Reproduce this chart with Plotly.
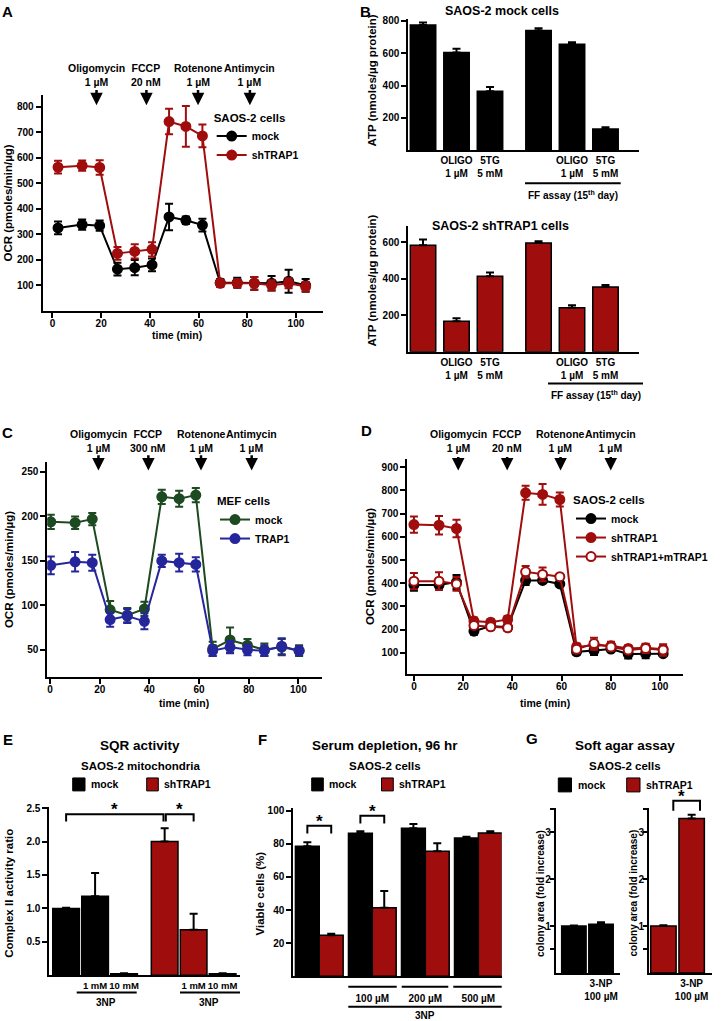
import plotly.graph_objects as go

W, H = 725, 1021
RED = "#a00d0d"
GREEN = "#1e4a22"
BLUE = "#26269c"
FONT = "Liberation Sans, Arial, sans-serif"

# ---------------- data ----------------
# A: SAOS-2 OCR
a_time = [2.3, 12.2, 19.4, 26.7, 33.8, 40.9, 47.9, 54.8, 61.6, 68.9, 75.9, 82.9, 90.0, 97.0, 104.0]
a_mock = [325, 338, 334, 163, 169, 180, 368, 355, 336, 110, 110, 108, 108, 116, 100]
a_mock_err = [25, 20, 20, 25, 30, 25, 52, 15, 25, 15, 20, 25, 28, 45, 25]
a_sh = [563, 569, 562, 225, 233, 241, 742, 723, 686, 108, 108, 108, 100, 108, 95]
a_sh_err = [25, 20, 28, 25, 28, 28, 50, 80, 45, 15, 15, 25, 20, 20, 18]
a_drug_t = [18.1, 38.6, 59.8, 81.1]
a_doses = ["1 µM", "20 nM", "1 µM", "1 µM"]

drug_names = ["Oligomycin", "FCCP", "Rotenone", "Antimycin"]

# B: ATP
b_x = [0, 1, 2, 3.45, 4.45, 5.45]
b_tick_x = [1, 2, 4.45, 5.45]
b_labels = ["OLIGO<br>1 µM", "5TG<br>5 mM", "OLIGO<br>1 µM", "5TG<br>5 mM"]
b_mock = [775, 605, 364, 740, 656, 131]
b_mock_err = [15, 22, 27, 14, 12, 10]
b_sh = [582, 167, 413, 595, 240, 354]
b_sh_err = [32, 16, 20, 10, 14, 11]

# C: MEF OCR
c_time = [0.3, 10.1, 17.0, 24.2, 31.1, 38.0, 45.0, 52.0, 58.7, 65.5, 72.5, 79.5, 86.3, 93.3, 100.3]
c_mock = [194, 193, 197, 95, 89, 96, 222, 220, 224, 51, 61, 55, 50, 53, 49]
c_mock_err = [8, 7, 7, 10, 8, 8, 8, 9, 8, 8, 14, 7, 7, 9, 6]
c_trap = [145, 149, 148, 84, 88, 82, 150, 148, 146, 49, 53, 50, 49, 54, 49]
c_trap_err = [10, 11, 9, 8, 8, 9, 7, 10, 8, 6, 7, 6, 6, 9, 5]
c_drug_t = [19.5, 39.6, 60.8, 81.2]
c_doses = ["1 µM", "300 nM", "1 µM", "1 µM"]

# D: SAOS-2 OCR with rescue
d_time = [0.0, 10.2, 17.3, 24.4, 31.2, 38.1, 45.4, 52.3, 59.3, 66.1, 73.2, 80.1, 87.1, 94.2, 101.3]
d_mock = [392, 392, 405, 193, 215, 210, 412, 412, 397, 104, 110, 116, 95, 96, 96]
d_mock_err = [25, 20, 30, 15, 15, 15, 20, 10, 10, 12, 20, 10, 20, 20, 10]
d_sh = [653, 650, 636, 237, 232, 244, 790, 783, 761, 125, 133, 130, 119, 122, 115]
d_sh_err = [35, 40, 38, 15, 12, 15, 30, 45, 30, 15, 20, 18, 12, 15, 15]
d_resc = [409, 409, 397, 218, 212, 208, 449, 438, 428, 115, 140, 125, 112, 119, 112]
d_resc_err = [35, 38, 30, 10, 12, 10, 25, 30, 10, 15, 25, 15, 12, 20, 25]
d_drug_t = [18.0, 37.9, 59.6, 80.0]
d_doses = ["1 µM", "20 nM", "1 µM", "1 µM"]

# E: SQR activity
e_mock_x = [0, 1, 2]
e_sh_x = [3.4, 4.4, 5.4]
e_tick_x = [1, 2, 4.4, 5.4]
e_labels = ["1 mM", "10 mM", "1 mM", "10 mM"]
e_mock = [1.0, 1.18, 0.02]
e_mock_err = [0.01, 0.35, 0.01]
e_sh = [2.0, 0.68, 0.02]
e_sh_err = [0.2, 0.24, 0.01]

# F: serum depletion
f_x = [0, 1, 2, 3]
f_tick_x = [1, 2, 3]
f_labels = ["100 µM", "200 µM", "500 µM"]
f_mock = [78.5, 86.4, 89.4, 83.5]
f_mock_err = [2.5, 1.2, 2.6, 0.8]
f_sh = [24.8, 41.3, 75.6, 86.6]
f_sh_err = [0.8, 10.2, 4.8, 1.0]

# G: soft agar
g_x = [0, 1]
g_tick_x = [1]
g_labels = ["3-NP<br>100 µM"]
g_mock = [1.0, 1.04]
g_mock_err = [0.01, 0.04]
g_sh = [1.0, 3.3]
g_sh_err = [0.02, 0.08]


def px(x):
    return x / W


def py(y):
    return 1 - y / H


fig = go.Figure()


def ocr(t, v, e, name, color, ax, legend, fill=None):
    fig.add_trace(go.Scatter(
        x=t, y=v, name=name, mode="lines+markers", xaxis="x" + ax, yaxis="y" + ax, legend=legend,
        line=dict(color=color, width=2),
        marker=dict(size=9, color=fill or color, line=dict(color=color, width=2)),
        error_y=dict(type="data", array=e, color=color, thickness=2, width=4)))


def bars(x, v, e, color, ax, name=None, width=0.76, offset=None):
    fig.add_trace(go.Bar(
        x=x, y=v, name=name, showlegend=False,
        xaxis="x" + ax, yaxis="y" + ax, width=width, offset=offset,
        marker=dict(color=color, line=dict(color="black", width=1.5)),
        error_y=dict(type="data", array=e, arrayminus=[0] * len(e), symmetric=False,
                     color="black", thickness=2, width=4)))


ocr(a_time, a_mock, a_mock_err, "mock", "black", "", "legend")
ocr(a_time, a_sh, a_sh_err, "shTRAP1", RED, "", "legend")

bars(b_x, b_mock, b_mock_err, "black", "2")
bars(b_x, b_sh, b_sh_err, RED, "3")

ocr(c_time, c_mock, c_mock_err, "mock", GREEN, "4", "legend2")
ocr(c_time, c_trap, c_trap_err, "TRAP1", BLUE, "4", "legend2")

ocr(d_time, d_mock, d_mock_err, "mock", "black", "5", "legend3")
ocr(d_time, d_sh, d_sh_err, "shTRAP1", RED, "5", "legend3")
ocr(d_time, d_resc, d_resc_err, "shTRAP1+mTRAP1", RED, "5", "legend3", fill="white")

bars(e_mock_x, e_mock, e_mock_err, "black", "6", "mock", width=0.92)
bars(e_sh_x, e_sh, e_sh_err, RED, "6", "shTRAP1", width=0.92)

bars(f_x, f_mock, f_mock_err, "black", "7", "mock", width=0.45, offset=-0.45)
bars(f_x, f_sh, f_sh_err, RED, "7", "shTRAP1", width=0.45, offset=0)

bars(g_x, g_mock, g_mock_err, "black", "8", "mock", width=0.9)
bars(g_x, g_sh, g_sh_err, RED, "9", "shTRAP1", width=0.9)


def axis(x0, x1, anchor, rng, **kw):
    d = dict(domain=[x0, x1], anchor=anchor, range=rng, showline=True, linecolor="black", linewidth=2,
             ticks="outside", ticklen=5, tickwidth=2, tickcolor="black", showgrid=False,
             zeroline=False, tickfont=dict(size=10))
    d.update(kw)
    return d


def xa(x0, x1, anchor, rng, **kw):
    return axis(px(x0), px(x1), anchor, rng, **kw)


def ya(y0, y1, anchor, rng, **kw):
    return axis(py(y1), py(y0), anchor, rng, **kw)


time_ticks = dict(tickvals=[0, 20, 40, 60, 80, 100], ticklabelstandoff=-3)
bar_x = dict(ticks="", tickmode="array", tickangle=0)
g_y = dict(tickvals=[1, 2, 3], ticklen=4, ticklabelstandoff=-3,
           minor=dict(tickvals=[0.5, 3.5], ticks="outside", ticklen=4, tickwidth=2, tickcolor="black"))

layout = dict(
    xaxis=xa(42.7, 322.7, "y", [-4, 111], **time_ticks),
    yaxis=ya(91.7, 308, "x", [0, 845], tickvals=list(range(100, 900, 100))),
    xaxis2=xa(408.3, 639.3, "y2", [-0.44, 6.46], tickvals=b_tick_x, ticktext=b_labels, **bar_x),
    yaxis2=ya(15, 146.7, "x2", [0, 812], tickvals=[200, 400, 600, 800]),
    xaxis3=xa(408.3, 639.3, "y3", [-0.44, 6.46], tickvals=b_tick_x, ticktext=b_labels, **bar_x),
    yaxis3=ya(222.7, 349, "x3", [0, 689], tickvals=[200, 400, 600]),
    xaxis4=xa(47.3, 321.7, "y4", [-1.1, 109.4], **time_ticks),
    yaxis4=ya(460, 676, "x4", [19, 261], tickvals=[50, 100, 150, 200, 250]),
    xaxis5=xa(407.3, 683.3, "y5", [-2.7, 109.5], **time_ticks),
    yaxis5=ya(456.7, 672.3, "x5", [10, 936], tickvals=list(range(100, 1000, 100))),
    xaxis6=xa(49.3, 240, "y6", [-0.58, 6.0], tickvals=e_tick_x, ticktext=e_labels,
              tickfont=dict(size=9.5), **bar_x),
    yaxis6=ya(806, 975, "x6", [0, 2.52], tickvals=[0.5, 1.0, 1.5, 2.0, 2.5], tickformat=".1f"),
    xaxis7=xa(293.3, 501.7, "y7", [-0.49, 3.44], tickvals=f_tick_x, ticktext=f_labels,
              ticklabelstandoff=12, **bar_x),
    yaxis7=ya(807.3, 976, "x7", [0, 101.6], tickvals=[20, 40, 60, 80, 100]),
    xaxis8=xa(555.7, 620, "y8", [-0.67, 1.7], tickvals=g_tick_x, ticktext=g_labels, **bar_x),
    yaxis8=ya(807.3, 972.7, "x8", [0, 3.52], **g_y),
    xaxis9=xa(649, 711.7, "y9", [-0.51, 1.71], tickvals=g_tick_x, ticktext=g_labels, **bar_x),
    yaxis9=ya(807.3, 972.7, "x9", [0, 3.52], **g_y),
)


def vleg(x, y, title):
    return dict(x=px(x), y=py(y), xanchor="left", yanchor="top", bgcolor="rgba(0,0,0,0)",
                title=dict(text=title, font=dict(size=11.5)), font=dict(size=10.5), itemwidth=30)


layout.update(
    legend=vleg(211.7, 103, "SAOS-2 cells"),
    legend2=vleg(215, 488, "MEF cells"),
    legend3=vleg(571, 487, "SAOS-2 cells"),
)

ann = []
shapes = []


def txt(x, y, text, size=10, **kw):
    d = dict(x=px(x), y=py(y), xref="paper", yref="paper", text=text, showarrow=False,
             font=dict(size=size), xanchor="center", yanchor="middle")
    d.update(kw)
    ann.append(d)


def hline(x0, x1, y):
    shapes.append(dict(type="line", xref="paper", yref="paper", x0=px(x0), x1=px(x1),
                       y0=py(y), y1=py(y), line=dict(color="black", width=2)))


def swatch(x0, x1, y0, y1, color, label):
    shapes.append(dict(type="rect", xref="paper", yref="paper", x0=px(x0), x1=px(x1),
                       y0=py(y1), y1=py(y0), fillcolor=color, line=dict(color="black", width=1)))
    txt(x1 + 4, (y0 + y1) / 2, label, 10.5, xanchor="left")


def drugs(ax, times, doses, y_text, y_head, tail):
    for t, n, d in zip(times, drug_names, doses):
        ann.append(dict(x=t, xref=ax, y=py(y_text), yref="paper", text=n + "<br>" + d,
                        showarrow=False, font=dict(size=10.5), yanchor="middle"))
        ann.append(dict(x=t, xref=ax, y=py(y_head), yref="paper", text="", showarrow=True,
                        arrowhead=2, arrowsize=1, arrowwidth=2.5, arrowcolor="black",
                        ax=0, ay=-(y_head - tail)))


drugs("x", a_drug_t, a_doses, 71.4, 101.7, 85)
drugs("x4", c_drug_t, c_doses, 439, 468.3, 451.7)
drugs("x5", d_drug_t, d_doses, 439, 468.3, 453.3)

# panel letters
for letter, x, y in [("A", 8, 8), ("B", 365, 8), ("C", 8, 430), ("D", 366, 428),
                     ("E", 8, 738), ("F", 262, 738), ("G", 532, 737)]:
    txt(x, y, letter, 15)

# axis titles
txt(177, 332.5, "time (min)", 10.5)
txt(184.3, 701.7, "time (min)", 10.5)
txt(545, 701.7, "time (min)", 10.5)
for x, y, t, s in [(8.3, 200, "OCR (pmoles/min/µg)", 11.5), (8.3, 568, "OCR (pmoles/min/µg)", 11.5),
                   (369.3, 565, "OCR (pmoles/min/µg)", 11.5), (371.7, 77, "ATP (nmoles/µg protein)", 11.5),
                   (371.7, 278, "ATP (nmoles/µg protein)", 11.5),
                   (8.3, 893, "Complex II activity ratio", 11.5),
                   (260, 893, "Viable cells (%)", 11.5), (540.5, 893, "colony area (fold increase)", 10),
                   (634, 893, "colony area (fold increase)", 10)]:
    txt(x, y, t, s, textangle=-90)

# B titles and group labels
txt(501.7, 7, "SAOS-2 mock cells", 12.5)
txt(500.7, 223, "SAOS-2 shTRAP1 cells", 12.5)
hline(525, 620.7, 180)
txt(573, 191.7, "FF assay (15<sup>th</sup> day)", 10)
hline(548, 643, 381)
txt(596, 392.7, "FF assay (15<sup>th</sup> day)", 10)

# E/F/G titles
for x, t1, t2 in [(140, "SQR activity", "SAOS-2 mitochondria"),
                  (385, "Serum depletion, 96 hr", "SAOS-2 cells"),
                  (625, "Soft agar assay", "SAOS-2 cells")]:
    txt(x, 744, t1, 13.5)
    txt(x, 764.5, t2, 11.5)

# E/F/G legends
swatch(72.7, 85, 777, 790, "black", "mock")
swatch(146.7, 158.3, 777, 790, RED, "shTRAP1")
swatch(311.7, 323.3, 777, 790, "black", "mock")
swatch(381.5, 393.3, 777, 790, RED, "shTRAP1")
swatch(558.3, 571.5, 777, 791, "black", "mock")
swatch(626.7, 640, 777, 791, RED, "shTRAP1")

# E 3NP
hline(76.7, 136.7, 992.3)
hline(180, 240, 992.3)
txt(106, 1002.7, "3NP", 10)
txt(209.3, 1002.7, "3NP", 10)

# F 3NP
hline(348.3, 396.7, 986.7)
hline(401.7, 448.3, 986.7)
hline(453.3, 501.7, 986.7)
hline(348.3, 501.7, 1006.7)
txt(425, 1015.5, "3NP", 10)


def bracket(ax, x0, x1, ytop, ydrop, yref=None):
    yr = yref or ax.replace("x", "y")
    shapes.append(dict(type="path", xref=ax, yref=yr,
                       path=f"M {x0} {ydrop} L {x0} {ytop} L {x1} {ytop} L {x1} {ydrop}",
                       line=dict(color="black", width=2)))
    ann.append(dict(x=(x0 + x1) / 2, xref=ax, y=ytop, yref=yr, text="*", showarrow=False,
                    font=dict(size=17), yanchor="bottom", yshift=-7))


bracket("x6", 0, 3.36, 2.41, 2.3)
bracket("x6", 3.44, 4.4, 2.41, 2.3)
bracket("x7", -0.225, 0.225, 90.9, 86.3)
bracket("x7", 0.775, 1.225, 97.0, 92.3)
bracket("paper", px(673.3), px(700), py(800), py(810), yref="paper")

layout.update(
    width=W, height=H, margin=dict(l=0, r=0, t=0, b=0),
    paper_bgcolor="white", plot_bgcolor="white", barmode="overlay",
    font=dict(family=FONT, size=10, color="black", weight="bold"),
    annotations=ann, shapes=shapes,
)
fig.update_layout(**layout)

fig.write_html("out.html", config={"displayModeBar": False},
               post_script="document.body.style.margin = '0';")
